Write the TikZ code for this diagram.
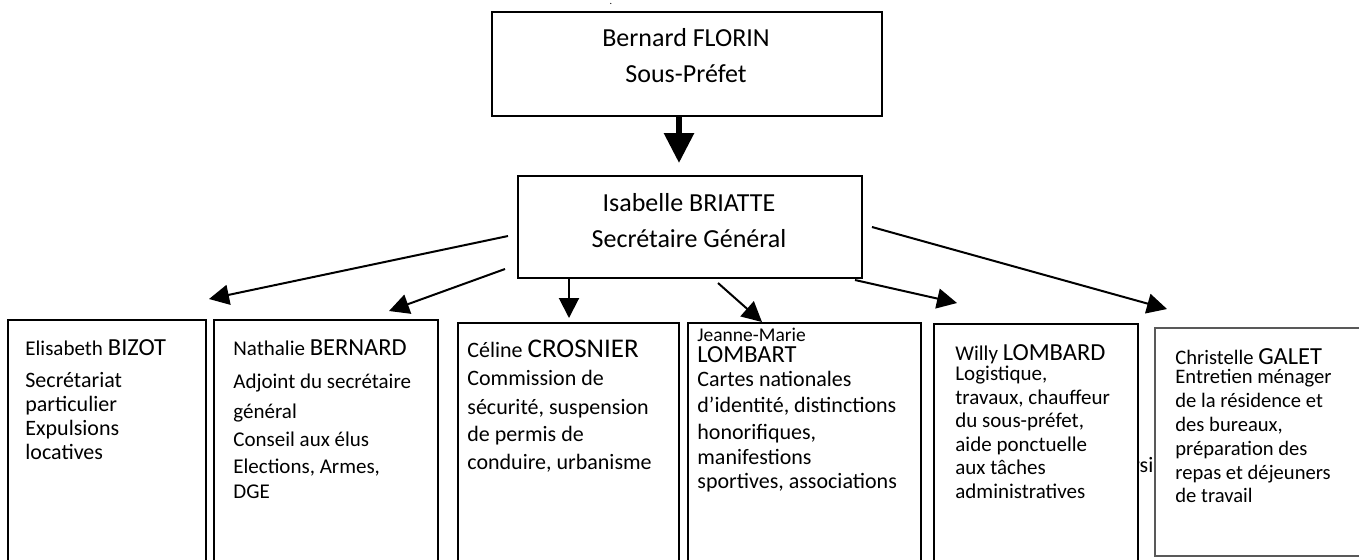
\documentclass[tikz,border=0pt]{standalone}
\usepackage{fontspec}
\setmainfont{Carlito}
\usetikzlibrary{arrows.meta}

\tikzset{
	box/.style={draw, rectangle, fill=white, line width=0.75pt, anchor=north west, inner sep=0pt},
	head/.style={font=\fontsize{13}{18}\selectfont, align=flush center, text width=190pt, anchor=base, inner sep=0pt},
	staff/.style={font=\fontsize{10.5}{12}\selectfont, align=flush left, text width=170pt, anchor=base west, inner sep=0pt},
	link/.style={-{Triangle[length=10pt, width=10pt]}, line width=1pt},
	biglink/.style={-{Triangle[length=15pt, width=14.5pt]}, line width=3pt},
}
\newcommand{\surname}[1]{{\fontsize{12.25}{12}\selectfont #1}}

\begin{document}
\begin{tikzpicture}[x=0.5pt, y=-0.5pt]
				\useasboundingbox (0,0) rectangle (1359,559);
				\node[font=\fontsize{11}{12}\selectfont, anchor=base west, inner sep=0pt] (frag)at(1132, 472) {rsi};
				\node[font=\tiny, inner sep=0pt] (dot)at(611, 4) {.};
				\node[box, minimum width=195pt, minimum height=52pt] (SP)at(491, 11) {};
				\node[box, minimum width=172pt, minimum height=51pt] (SG)at(517, 175) {};
				\node[box, minimum width=99pt, minimum height=150pt] (B1)at(7, 319) {};
				\node[box, minimum width=112pt, minimum height=150pt] (B2)at(213, 319) {};
				\node[box, minimum width=110.5pt, minimum height=150pt] (B3)at(457, 322) {};
				\node[box, minimum width=116.5pt, minimum height=150pt] (B4)at(687, 322) {};
				\node[box, minimum width=102pt, minimum height=150pt] (B5)at(933, 323) {};
				\node[box, draw=black!65, line width=1pt, minimum width=123pt, minimum height=114pt] (B6)at(1154, 327) {};
				\node[head] (SPtxt)at(686, 46) {Bernard FLORIN\\Sous-Préfet};
				\node[head] (SGtxt)at(689, 211) {Isabelle BRIATTE\\Secrétaire Général};
				\node[staff, font=\fontsize{11}{12}\selectfont] (T1)at(25, 355) {{\fontsize{10.5}{12}\selectfont Elisabeth} \surname{BIZOT}\\[4pt]Secrétariat\\particulier\\Expulsions\\locatives};
				\node[staff] (T2)at(233, 355) {Nathalie \surname{BERNARD}\\[4.5pt]Adjoint du secrétaire\\[3pt]général\\[2pt]Conseil aux élus\\[1.5pt]Elections, Armes,\\[0.5pt]DGE};
				\node[staff, font=\fontsize{11}{12}\selectfont] (T3)at(467, 357) {Céline {\fontsize{13.5}{12}\selectfont CROSNIER}\\[2pt]Commission de\\[2.5pt]sécurité, suspension\\[1.5pt]de permis de\\[2pt]conduire, urbanisme};
				\node[staff, font=\fontsize{11}{12}\selectfont] (T4)at(697, 341) {{\fontsize{9.75}{12}\selectfont Jeanne-Marie}\\[-1.5pt]\surname{LOMBART}\\Cartes nationales\\[1pt]d’identité, distinctions\\[1.5pt]honorifiques,\\[0.5pt]manifestions\\sportives, associations};
				\node[staff, font=\fontsize{10.5}{11.75}\selectfont] (T5)at(955, 360) {Willy \surname{LOMBARD}\\[-1.5pt]Logistique,\\travaux, chauffeur\\du sous-préfet,\\aide ponctuelle\\aux tâches\\administratives};
				\node[staff, font=\fontsize{10.3}{11.9}\selectfont] (T6)at(1175, 364) {Christelle \surname{GALET}\\[-2pt]Entretien ménager\\de la résidence et\\des bureaux,\\préparation des\\repas et déjeuners\\de travail};
				\coordinate (c0s)at(679, 115);
				\coordinate (c0e)at(679, 163);
				\coordinate (c1s)at(508, 236);
				\coordinate (c1e)at(209, 299);
				\coordinate (c2s)at(505, 269);
				\coordinate (c2e)at(389, 311);
				\coordinate (c3s)at(569, 277);
				\coordinate (c3e)at(569, 318);
				\coordinate (c4s)at(718, 283);
				\coordinate (c4e)at(762, 322);
				\coordinate (c5s)at(855, 280);
				\coordinate (c5e)at(957, 303);
				\coordinate (c6s)at(872, 227);
				\coordinate (c6e)at(1167, 309);
				\draw[biglink] (c0s) -- (c0e);
				\draw[link] (c1s) -- (c1e);
				\draw[link] (c2s) -- (c2e);
				\draw[link] (c3s) -- (c3e);
				\draw[link] (c4s) -- (c4e);
				\draw[link] (c5s) -- (c5e);
				\draw[link] (c6s) -- (c6e);
			\end{tikzpicture}
\end{document}
